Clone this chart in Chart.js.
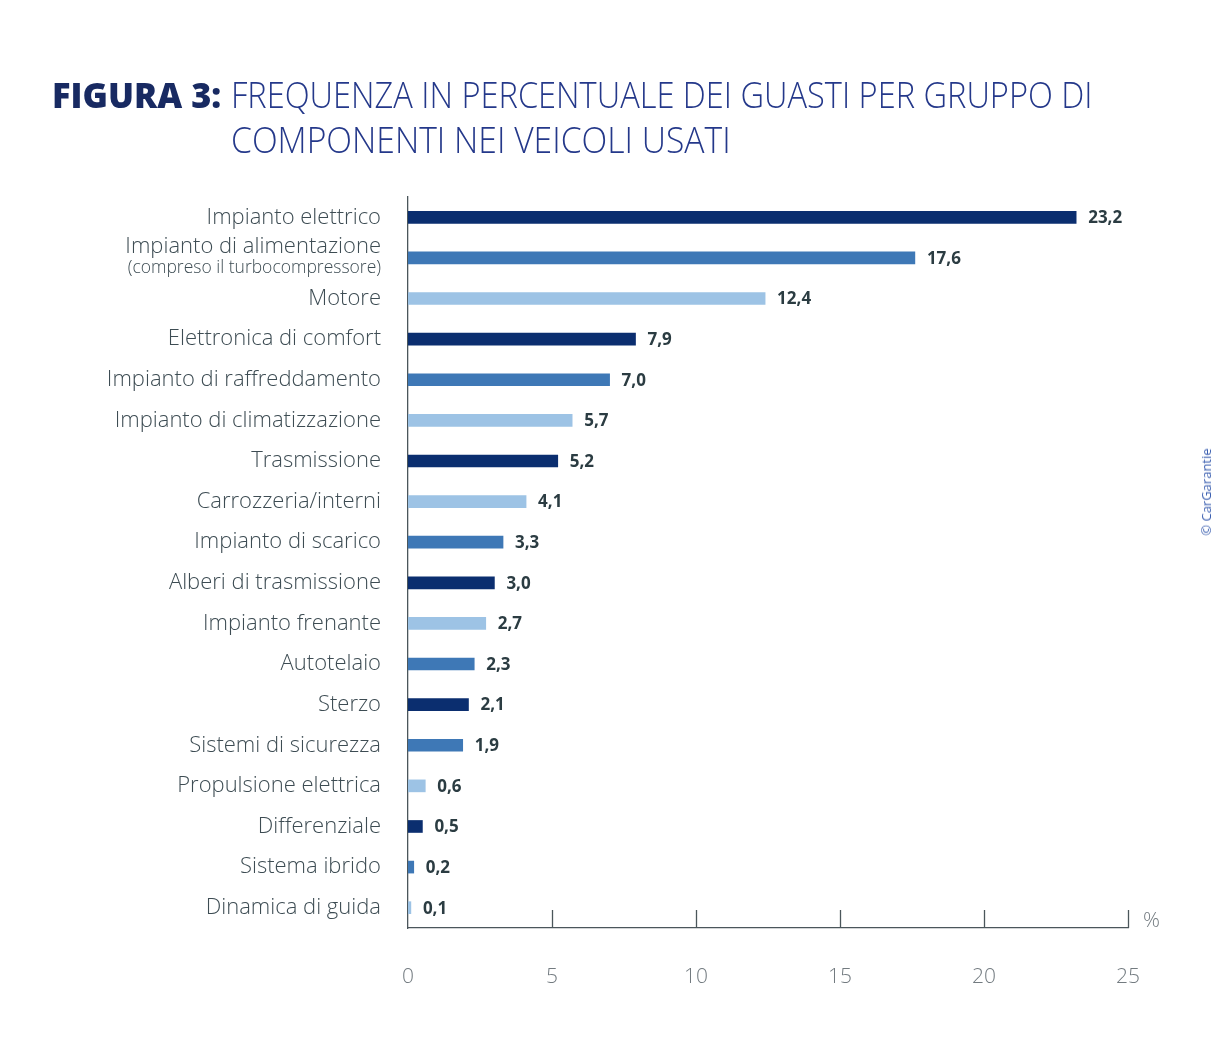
<!DOCTYPE html>
<html>
<head>
<meta charset="utf-8">
<script src="https://cdn.jsdelivr.net/npm/chart.js@4/dist/chart.umd.min.js"></script>
<style>
  html, body { margin: 0; padding: 0; background: #fff; }
  #wrap { position: relative; width: 1232px; height: 1057px; }
  #chart { position: absolute; left: 0; top: 0; }
  .title { position: absolute; font-family: "Open Sans", sans-serif; color: #24388a; font-size: 36px; white-space: nowrap; font-weight: 300; transform-origin: left center; }
  #fig { left: 52px; top: 70px; font-weight: 800; color: #182a62; transform: scaleX(0.955); }
  #t1 { left: 231px; top: 70px; transform: scaleX(0.905); }
  #t2 { left: 231px; top: 115px; transform: scaleX(0.935); }
  #copy { position: absolute; left: 1206px; top: 492px; transform: translate(-50%, -50%) rotate(-90deg); font-family: "Open Sans", sans-serif; font-size: 13px; color: #3b5fb0; white-space: nowrap; }
</style>
</head>
<body>
<div id="wrap">
  <canvas id="chart" width="1232" height="1057"></canvas>
  <div class="title" id="fig">FIGURA 3:</div>
  <div class="title" id="t1">FREQUENZA IN PERCENTUALE DEI GUASTI PER GRUPPO DI</div>
  <div class="title" id="t2">COMPONENTI NEI VEICOLI USATI</div>
  <div id="copy">© CarGarantie</div>
</div>
<script>
const categories = [
  'Impianto elettrico',
  'Impianto di alimentazione',
  'Motore',
  'Elettronica di comfort',
  'Impianto di raffreddamento',
  'Impianto di climatizzazione',
  'Trasmissione',
  'Carrozzeria/interni',
  'Impianto di scarico',
  'Alberi di trasmissione',
  'Impianto frenante',
  'Autotelaio',
  'Sterzo',
  'Sistemi di sicurezza',
  'Propulsione elettrica',
  'Differenziale',
  'Sistema ibrido',
  'Dinamica di guida'
];
const subLabels = { 1: '(compreso il turbocompressore)' };
const values = [23.2, 17.6, 12.4, 7.9, 7.0, 5.7, 5.2, 4.1, 3.3, 3.0, 2.7, 2.3, 2.1, 1.9, 0.6, 0.5, 0.2, 0.1];
const shades = ['dark', 'mid', 'light', 'dark', 'mid', 'light', 'dark', 'light', 'mid',
                'dark', 'light', 'mid', 'dark', 'mid', 'light', 'dark', 'mid', 'light'];
const xTicks = [0, 5, 10, 15, 20, 25];

const palette = { dark: '#0b2e6f', mid: '#3e78b6', light: '#9dc3e5' };
const axisColor = '#4b565b';
const labelFont = '"Open Sans", sans-serif';

// value labels, upward tick marks, % sign and sub label
const extras = {
  id: 'extras',
  afterDraw(chart) {
    const ctx = chart.ctx;
    const x = chart.scales.x, y = chart.scales.y;
    ctx.save();
    ctx.fillStyle = '#2b3c42';
    ctx.font = 'bold 17px "Liberation Sans Narrow", "Open Sans", sans-serif';
    ctx.textBaseline = 'middle';
    ctx.textAlign = 'left';
    chart.getDatasetMeta(0).data.forEach((bar, i) => {
      ctx.fillText(values[i].toFixed(1).replace('.', ','), bar.x + 12, bar.y + 1);
    });

    ctx.strokeStyle = axisColor;
    ctx.lineWidth = 1.3;
    xTicks.forEach(v => {
      if (v === 0) return;
      const px = Math.round(x.getPixelForValue(v)) + 0.5;
      ctx.beginPath();
      ctx.moveTo(px, chart.chartArea.bottom);
      ctx.lineTo(px, chart.chartArea.bottom - 18);
      ctx.stroke();
    });

    ctx.fillStyle = '#737b80';
    ctx.font = '300 21px ' + labelFont;
    ctx.textAlign = 'left';
    ctx.fillText('%', x.right + 15, chart.chartArea.bottom - 7);

    ctx.fillStyle = '#3d4c53';
    ctx.font = '300 17.5px ' + labelFont;
    ctx.textAlign = 'right';
    Object.keys(subLabels).forEach(k => {
      ctx.fillText(subLabels[k], x.left - 27, y.getPixelForValue(Number(k)) + 10);
    });
    ctx.restore();
  }
};

new Chart(document.getElementById('chart'), {
  type: 'bar',
  data: {
    labels: categories,
    datasets: [{
      data: values,
      backgroundColor: shades.map(s => palette[s]),
      barThickness: 12
    }]
  },
  options: {
    indexAxis: 'y',
    responsive: false,
    animation: false,
    layout: { padding: { left: 0, right: 104, top: 197, bottom: 59 } },
    plugins: { legend: { display: false }, tooltip: { enabled: false } },
    scales: {
      x: {
        min: 0,
        max: 25,
        afterFit(scale) { scale.height = 70; },
        afterBuildTicks(scale) { scale.ticks = xTicks.map(v => ({ value: v })); },
        grid: { display: false, drawTicks: false },
        border: { display: true, color: axisColor, width: 1.3 },
        ticks: {
          padding: 36,
          color: '#737b80',
          font: { family: labelFont, size: 21, weight: 300 }
        }
      },
      y: {
        afterFit(scale) { scale.width = 408; },
        grid: { display: false, drawTicks: false },
        border: { display: true, color: axisColor, width: 1.3 },
        ticks: {
          autoSkip: false,
          padding: 27,
          color: '#3d4c53',
          font: { family: labelFont, size: 22, weight: 300, lineHeight: 1.0 },
          callback(value, index) {
            return subLabels[index] ? [categories[index], ' '] : categories[index];
          }
        }
      }
    }
  },
  plugins: [extras]
});
</script>
</body>
</html>
